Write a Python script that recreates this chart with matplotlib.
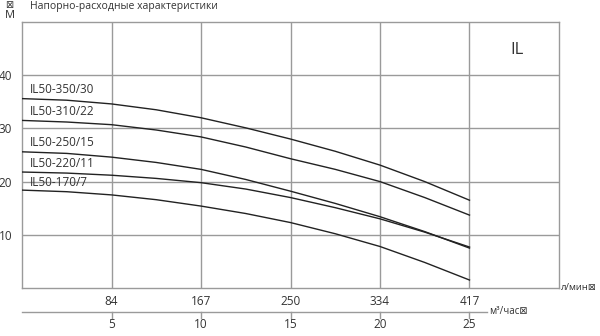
import numpy as np
import matplotlib.pyplot as plt
from matplotlib.transforms import blended_transform_factory

plt.rcParams["font.family"] = ["Open Sans", "DejaVu Sans"]

# flow, m3/h
q = [0, 2.5, 5, 7.5, 10, 12.5, 15, 17.5, 20, 22.5, 25]
# head, m
curves = {
    "IL50-350/30": [35.6, 35.3, 34.6, 33.5, 32.0, 30.1, 28.0, 25.7, 23.1, 20.0, 16.5],
    "IL50-310/22": [31.5, 31.2, 30.7, 29.7, 28.4, 26.5, 24.3, 22.3, 20.0, 17.0, 13.7],
    "IL50-250/15": [25.6, 25.3, 24.6, 23.6, 22.3, 20.4, 18.2, 15.9, 13.4, 10.6, 7.5],
    "IL50-220/11": [21.8, 21.6, 21.2, 20.6, 19.8, 18.6, 17.0, 15.1, 13.0, 10.5, 7.7],
    "IL50-170/7":  [18.4, 18.1, 17.5, 16.6, 15.4, 14.0, 12.3, 10.2, 7.8, 4.8, 1.5],
}
label_y = [37.3, 33.1, 27.3, 23.4, 19.9]

m3h_ticks = [5, 10, 15, 20, 25]
lmin_ticks = ["84", "167", "250", "334", "417"]
y_ticks = [10, 20, 30, 40]

grid_c = "#9a9a9a"
line_c = "#222222"
txt_c = "#333333"

fig = plt.figure(figsize=(6, 3.36), dpi=100)
ax = fig.add_axes([22/600, 48/336, 537/600, 266/336])
ax.set_xlim(0, 30)
ax.set_ylim(0, 50)

for xv in m3h_ticks:
    ax.axvline(xv, color=grid_c, lw=1.0, zorder=1)
for yv in y_ticks:
    ax.axhline(yv, color=grid_c, lw=1.0, zorder=1)
for s in ax.spines.values():
    s.set_color(grid_c)
    s.set_linewidth(1.0)

for (name, h), ly in zip(curves.items(), label_y):
    ax.plot(q, h, color=line_c, lw=1.0, zorder=3)
    ax.text(0.45, ly, name, fontsize=8.5, color=txt_c, va="center", ha="left")

ax.set_xticks([])
ax.set_yticks(y_ticks)
ax.set_yticklabels([str(v) for v in y_ticks], fontsize=8.5, color=txt_c)
ax.tick_params(axis="y", length=0, pad=7)

tr = blended_transform_factory(ax.transData, ax.transAxes)
# l/min labels under the plot
for xv, lab in zip(m3h_ticks, lmin_ticks):
    ax.text(xv, -0.051, lab, transform=tr, ha="center", va="center",
            fontsize=8.5, color=txt_c)
ax.text(30.1, 0.0, "л/мин⊠", transform=tr, ha="left", va="center",
        fontsize=6.8, color=txt_c, clip_on=False)

# m3/h scale
ax.plot([0, 26], [-0.090, -0.090], transform=tr, color=grid_c, lw=1.0, clip_on=False)
for xv in m3h_ticks:
    ax.plot([xv, xv], [-0.090, -0.113], transform=tr, color=grid_c, lw=1.0, clip_on=False)
    ax.text(xv, -0.139, str(xv), transform=tr, ha="center", va="center",
            fontsize=8.5, color=txt_c)
ax.text(26.1, -0.090, "м³/час⊠", transform=tr, ha="left", va="center",
        fontsize=7, color=txt_c, clip_on=False)

ax.text(27.65, 44.7, "IL", ha="center", va="center", fontsize=12, color=txt_c)

fig.text(9/600, 1 - 5/336, "⊠", ha="center", va="center", fontsize=7, color=txt_c)
fig.text(10/600, 1 - 16/336, "M", ha="center", va="center", fontsize=8, color=txt_c)
fig.text(30/600, 1 - 6/336, "Напорно-расходные характеристики", ha="left",
         va="center", fontsize=7.5, color=txt_c)

fig.savefig("out.png", dpi=100)
